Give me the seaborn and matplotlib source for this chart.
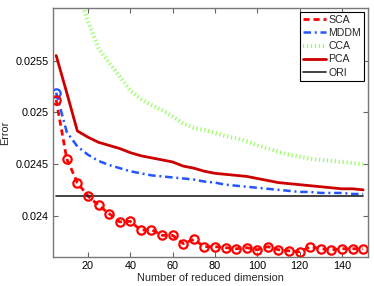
import numpy as np
import pandas as pd
import seaborn as sns
import matplotlib.pyplot as plt

# reduced dimension values
dims = list(range(5, 155, 5))

sca = [0.02512, 0.02455, 0.02432, 0.02419, 0.02410, 0.02402, 0.02394, 0.023945,
       0.02386, 0.023865, 0.02381, 0.02381, 0.02373, 0.02377, 0.02370, 0.02370,
       0.02369, 0.02368, 0.02369, 0.02367, 0.02370, 0.02367, 0.02366, 0.02365,
       0.02370, 0.02368, 0.02367, 0.02368, 0.02368, 0.02368]
mddm = [0.02519, 0.02481, 0.02467, 0.02459, 0.02453, 0.02449, 0.02446, 0.02443,
        0.02441, 0.02439, 0.02438, 0.02437, 0.02436, 0.02435, 0.02433, 0.02432,
        0.02430, 0.02429, 0.02428, 0.02427, 0.02426, 0.02425, 0.02424, 0.02423,
        0.02423, 0.02422, 0.02422, 0.02422, 0.02421, 0.02421]
cca = [0.02720, 0.02660, 0.02620, 0.02588, 0.02562, 0.02548, 0.02535, 0.02521,
       0.02513, 0.02507, 0.02502, 0.02496, 0.02489, 0.02485, 0.02483, 0.02480,
       0.02477, 0.02475, 0.02472, 0.02468, 0.02465, 0.02462, 0.02459, 0.02457,
       0.02455, 0.02454, 0.02453, 0.02452, 0.02451, 0.02450]
pca = [0.02555, 0.02519, 0.02482, 0.02476, 0.02471, 0.02468, 0.02465, 0.02461,
       0.02458, 0.02456, 0.02454, 0.02452, 0.02448, 0.02446, 0.02443, 0.02441,
       0.02440, 0.02439, 0.02438, 0.02436, 0.02434, 0.02432, 0.02431, 0.02430,
       0.02429, 0.02428, 0.02427, 0.02426, 0.02426, 0.02425]
ori = [0.024187] * len(dims)

x_ticks = [20, 40, 60, 80, 100, 120, 140]
y_ticks = [0.024, 0.0245, 0.025, 0.0255]
y_tick_labels = ["0.024", "0.0245", "0.025", "0.0255"]

sns.set_theme(style="white")
plt.rcParams["font.family"] = ["Liberation Sans", "DejaVu Sans"]

fig = plt.figure(figsize=(3.74, 2.86), dpi=100)
ax = fig.add_axes([0.1417, 0.1014, 0.8423, 0.8706])

sns.lineplot(x=dims, y=sca, ax=ax, color="#ff0000", linestyle=(0, (2.2, 1.4)),
             lw=2, label="SCA")
sns.lineplot(x=dims, y=mddm, ax=ax, color="#2255ff", linestyle=(0, (3, 1.5, 0.8, 1.5)),
             lw=1.8, label="MDDM")
sns.lineplot(x=dims, y=cca, ax=ax, color="#99ff66", linestyle=(0, (0.3, 0.65)),
             lw=3.0, label="CCA")
sns.lineplot(x=dims, y=pca, ax=ax, color="#cc0000", linestyle="-", lw=2, label="PCA")
sns.lineplot(x=dims, y=ori, ax=ax, color="#222222", linestyle="-", lw=1.2, label="ORI")

# circle markers (not in legend)
sns.lineplot(x=dims[:1], y=mddm[:1], ax=ax, linestyle="none", marker="o",
             markerfacecolor="none", markeredgecolor="#2255ff",
             markeredgewidth=1.6, markersize=6, legend=False)
sns.lineplot(x=dims, y=sca, ax=ax, linestyle="none", marker="o",
             markerfacecolor="none", markeredgecolor="#ff0000",
             markeredgewidth=1.6, markersize=6, legend=False)

ax.set_xlim(3.5, 152.3)
ax.set_ylim(0.0236, 0.02601)
ax.set_xticks(x_ticks)
ax.set_xticklabels([str(t) for t in x_ticks])
ax.set_yticks(y_ticks)
ax.set_yticklabels(y_tick_labels)
ax.tick_params(direction="in", length=3.5, width=0.8, color="#666666",
               labelsize=7.8, labelcolor="black", top=True, right=True,
               bottom=True, left=True, pad=3)
for sp in ax.spines.values():
    sp.set_color("#777777")
    sp.set_linewidth(1.0)

ax.set_xlabel("Number of reduced dimension", fontsize=7.8, labelpad=1)
ax.set_ylabel("Error", fontsize=7.8, labelpad=4)

leg = ax.legend(loc="upper right", fontsize=7.6, frameon=True, fancybox=False,
                framealpha=1, edgecolor="black", borderpad=0.3, labelspacing=0.3,
                handlelength=2.2, handletextpad=0.2, borderaxespad=0.35)
leg.get_frame().set_linewidth(0.8)

fig.savefig("out.png", dpi=100)
